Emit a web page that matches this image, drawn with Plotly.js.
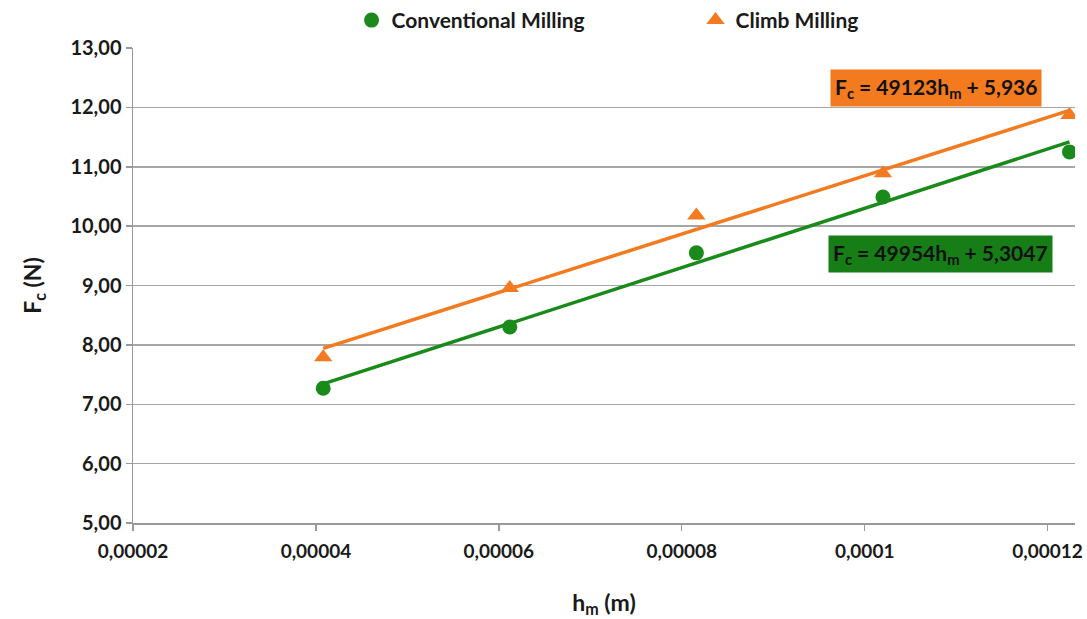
<!DOCTYPE html>
<html>
<head>
<meta charset="utf-8">
<script src="https://cdn.plot.ly/plotly-3.0.1.min.js"></script>
<style>html,body{margin:0;padding:0;background:#fff;}#chart{width:1087px;height:619px;}</style>
</head>
<body>
<div id="chart"></div>
<script>
const hm = [0.0000408, 0.0000612, 0.0000816, 0.000102, 0.0001224];
const conventional = [7.27, 8.30, 9.55, 10.49, 11.25];
const climb = [7.79, 8.96, 10.18, 10.89, 11.87];
const convFit = [49954, 5.3047];
const climbFit = [49123, 5.936];
const xTickVals = [0.00002, 0.00004, 0.00006, 0.00008, 0.0001, 0.00012];
const xTickText = ['0,00002', '0,00004', '0,00006', '0,00008', '0,0001', '0,00012'];
const seriesNames = ['Conventional Milling', 'Climb Milling'];

const green = '#1a8a1a';
const orange = '#f47a20';
const fontFam = 'Lato, "Open Sans", sans-serif';

const xEnds = [hm[0], hm[hm.length - 1]];
const fitLine = (c) => xEnds.map(x => c[0] * x + c[1]);

const traces = [
  {x: xEnds, y: fitLine(climbFit), mode: 'lines', line: {color: orange, width: 3.5}, showlegend: false, hoverinfo: 'skip'},
  {x: xEnds, y: fitLine(convFit), mode: 'lines', line: {color: green, width: 3.5}, showlegend: false, hoverinfo: 'skip'},
  {x: hm, y: conventional, name: seriesNames[0], mode: 'markers', marker: {color: green, size: 15, symbol: 'circle'}},
  {x: hm, y: climb, name: seriesNames[1], mode: 'markers', marker: {color: orange, size: 16, symbol: 'triangle-up'}}
];

const layout = {
  width: 1087, height: 619,
  margin: {l: 133, r: 12, t: 48, b: 96, autoexpand: false},
  paper_bgcolor: '#fff', plot_bgcolor: '#fff',
  separators: ', ',
  font: {family: fontFam, color: '#1a1a1a', size: 20, weight: 'bold'},
  showlegend: true,
  legend: {orientation: 'h', x: 0.232, xanchor: 'left', y: 1.058, yanchor: 'middle',
           font: {size: 21, family: fontFam, color: '#1a1a1a', weight: 'bold'}, entrywidth: 299, traceorder: 'normal'},
  xaxis: {
    range: [0.00002, 0.000123],
    tickvals: xTickVals, ticktext: xTickText,
    showgrid: false, zeroline: false,
    showline: true, linecolor: '#999', linewidth: 1.5,
    ticks: 'outside', ticklen: 6, tickcolor: '#999', tickwidth: 1.5,
    ticklabelstandoff: 5,
    tickfont: {size: 19, family: fontFam, weight: 'bold'},
    title: {text: 'h<sub>m</sub> (m)', font: {size: 23, family: fontFam, weight: 'bold'}, standoff: 33}
  },
  yaxis: {
    range: [5, 13], dtick: 1, tickformat: '.2f',
    showgrid: true, gridcolor: '#a6a6a6', gridwidth: 1.5,
    zeroline: false,
    showline: true, linecolor: '#999', linewidth: 1.5,
    ticks: 'outside', ticklen: 6, tickcolor: '#999', tickwidth: 1.5,
    tickfont: {size: 20, family: fontFam, weight: 'bold'},
    title: {text: 'F<sub>c</sub> (N)', font: {size: 23, family: fontFam, weight: 'bold'}, standoff: 22}
  },
  annotations: [
    {xref: 'paper', yref: 'paper', x: 0.852, y: 0.916, xanchor: 'center', yanchor: 'middle', showarrow: false,
     text: 'F<sub>c</sub> = ' + climbFit[0] + 'h<sub>m</sub> + ' + String(climbFit[1]).replace('.', ','),
     bgcolor: orange, borderpad: 4, font: {size: 21, family: fontFam, color: '#111', weight: 'bold'}},
    {xref: 'paper', yref: 'paper', x: 0.857, y: 0.566, xanchor: 'center', yanchor: 'middle', showarrow: false,
     text: 'F<sub>c</sub> = ' + convFit[0] + 'h<sub>m</sub> + ' + String(convFit[1]).replace('.', ','),
     bgcolor: '#177e17', borderpad: 4, font: {size: 21, family: fontFam, color: '#111', weight: 'bold'}}
  ]
};

Plotly.newPlot('chart', traces, layout, {displayModeBar: false, staticPlot: true});
</script>
</body>
</html>
